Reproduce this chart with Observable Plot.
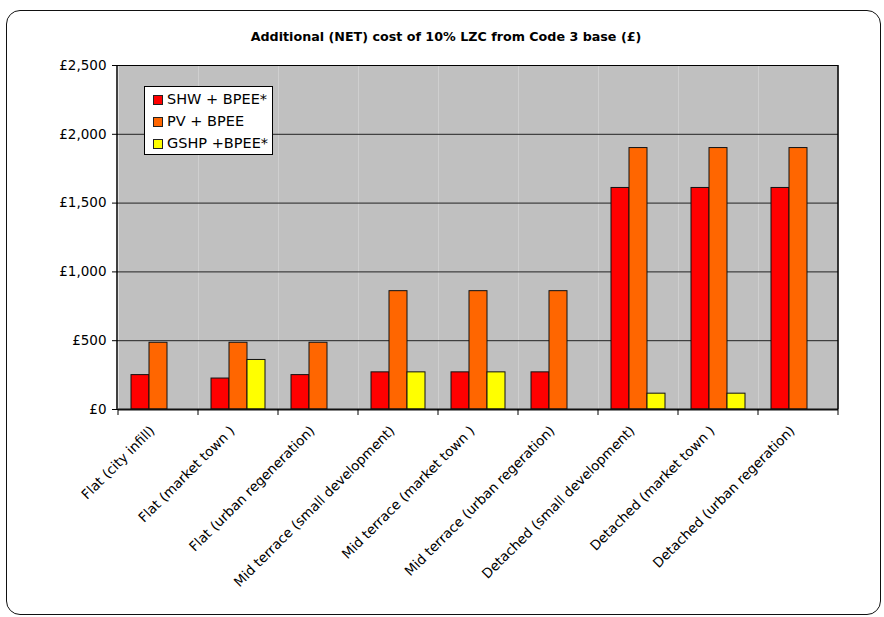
<!DOCTYPE html>
<html><head><meta charset="utf-8">
<script src="https://cdn.jsdelivr.net/npm/d3@7"></script>
<script src="https://cdn.jsdelivr.net/npm/@observablehq/plot@0.6"></script>
<style>
body{margin:0;background:#fff;font-family:"DejaVu Sans",sans-serif;}
#wrap{position:relative;width:884px;height:617px;overflow:hidden;background:#fff;}
#frame{position:absolute;left:6px;top:10px;width:873px;height:603px;border:1px solid #111;border-radius:14px;}
#title{position:absolute;left:0;width:892px;top:29px;text-align:center;font-weight:bold;font-size:12.7px;line-height:16px;}
#chart{position:absolute;left:0;top:0;}
#legend{position:absolute;left:144px;top:86px;width:127px;height:67px;border:1px solid #000;background:#fff;font-size:14.5px;}
.row{position:absolute;left:8px;height:18px;line-height:18px;white-space:nowrap;}
.sw{position:absolute;left:0;top:5px;width:8px;height:8px;border:1px solid #222;}
.lab{position:absolute;left:14px;top:0;}
</style></head>
<body>
<div id="wrap">
  <div id="frame"></div>
  <div id="title">Additional (NET) cost of 10% LZC from Code 3 base (£)</div>
  <div id="chart"></div>
  <div id="legend"></div>
</div>
<script>
const categories = [
  "Flat (city infill)",
  "Flat (market town )",
  "Flat (urban regeneration)",
  "Mid terrace (small development)",
  "Mid terrace (market town )",
  "Mid terrace (urban regeration)",
  "Detached (small development)",
  "Detached (market town )",
  "Detached (urban regeration)"
];
const series = ["SHW + BPEE*", "PV + BPEE", "GSHP +BPEE*"];
const colors = ["#FF0000", "#FF6600", "#FFFF00"];
const shwValues  = [250, 225, 250, 270, 270, 270, 1610, 1610, 1610];
const pvValues   = [485, 485, 485, 860, 860, 860, 1900, 1900, 1900];
const gshpValues = [0, 360, 0, 270, 270, 0, 115, 115, 0];
const yTicks = [0, 500, 1000, 1500, 2000, 2500];

const valuesBySeries = [shwValues, pvValues, gshpValues];
const data = [];
categories.forEach((c, i) => {
  series.forEach((s, j) => {
    const v = valuesBySeries[j][i];
    if (v > 0) data.push({category: c, series: s, value: v});
  });
});

const fmt = d => "£" + d3.format(",")(d);

const chart = Plot.plot({
  width: 884,
  height: 600,
  marginLeft: 117,
  marginRight: 46,
  marginTop: 65,
  marginBottom: 191,
  style: {fontFamily: "'DejaVu Sans', sans-serif", fontSize: "13.5px", color: "#000", background: "transparent"},
  fx: {domain: categories, padding: 0, label: null, tickRotate: -45, tickSize: 0, tickPadding: 19},
  x: {domain: series, paddingInner: 0, paddingOuter: 0.69, axis: null},
  y: {domain: [0, 2500], ticks: yTicks, tickFormat: fmt, tickSize: 6, tickPadding: 6, label: null},
  color: {domain: series, range: colors},
  marks: [
    Plot.frame({fill: "#C0C0C0", stroke: null}),
    Plot.ruleY(yTicks.slice(1, -1), {stroke: "#222", strokeWidth: 1}),
    Plot.ruleY([2500], {stroke: "#000", strokeWidth: 1}),
    Plot.barY(data, {fx: "category", x: "series", y: "value", fill: "series", stroke: "#111", strokeWidth: 1}),
    Plot.ruleY([0], {stroke: "#111", strokeWidth: 2})
  ]
});
document.getElementById("chart").appendChild(chart);

// shift the rotated category labels slightly left, as in the reference
d3.select(chart).selectAll("g[aria-label='fx-axis tick label']").each(function() {
  const t = this.getAttribute("transform") || "";
  this.setAttribute("transform", "translate(-6,0) " + t);
});

// outer plot-area border and category boundary ticks via the chart's scales
const fx = chart.scale("fx");
const y = chart.scale("y");
const svg = d3.select(chart);
const x0 = fx.range[0], x1 = fx.range[1];
const yTop = y.apply(2500), yBot = y.apply(0);
const g = svg.append("g");
g.append("line").attr("x1", x0).attr("x2", x0).attr("y1", yTop).attr("y2", yBot).attr("stroke", "#000").attr("stroke-width", 1.5);
g.append("line").attr("x1", x1).attr("x2", x1).attr("y1", yTop).attr("y2", yBot).attr("stroke", "#000").attr("stroke-width", 1.5);
const bounds = categories.map(c => fx.apply(c)).concat([x1]);
bounds.forEach(b => {
  g.append("line").attr("x1", b).attr("x2", b).attr("y1", yBot).attr("y2", yBot + 6).attr("stroke", "#000").attr("stroke-width", 1);
});

// legend
const leg = document.getElementById("legend");
series.forEach((s, i) => {
  const row = document.createElement("div");
  row.className = "row";
  row.style.top = (3 + i * 22) + "px";
  row.innerHTML = `<span class="sw" style="background:${colors[i]}"></span><span class="lab">${s}</span>`;
  leg.appendChild(row);
});
</script>
</body></html>
